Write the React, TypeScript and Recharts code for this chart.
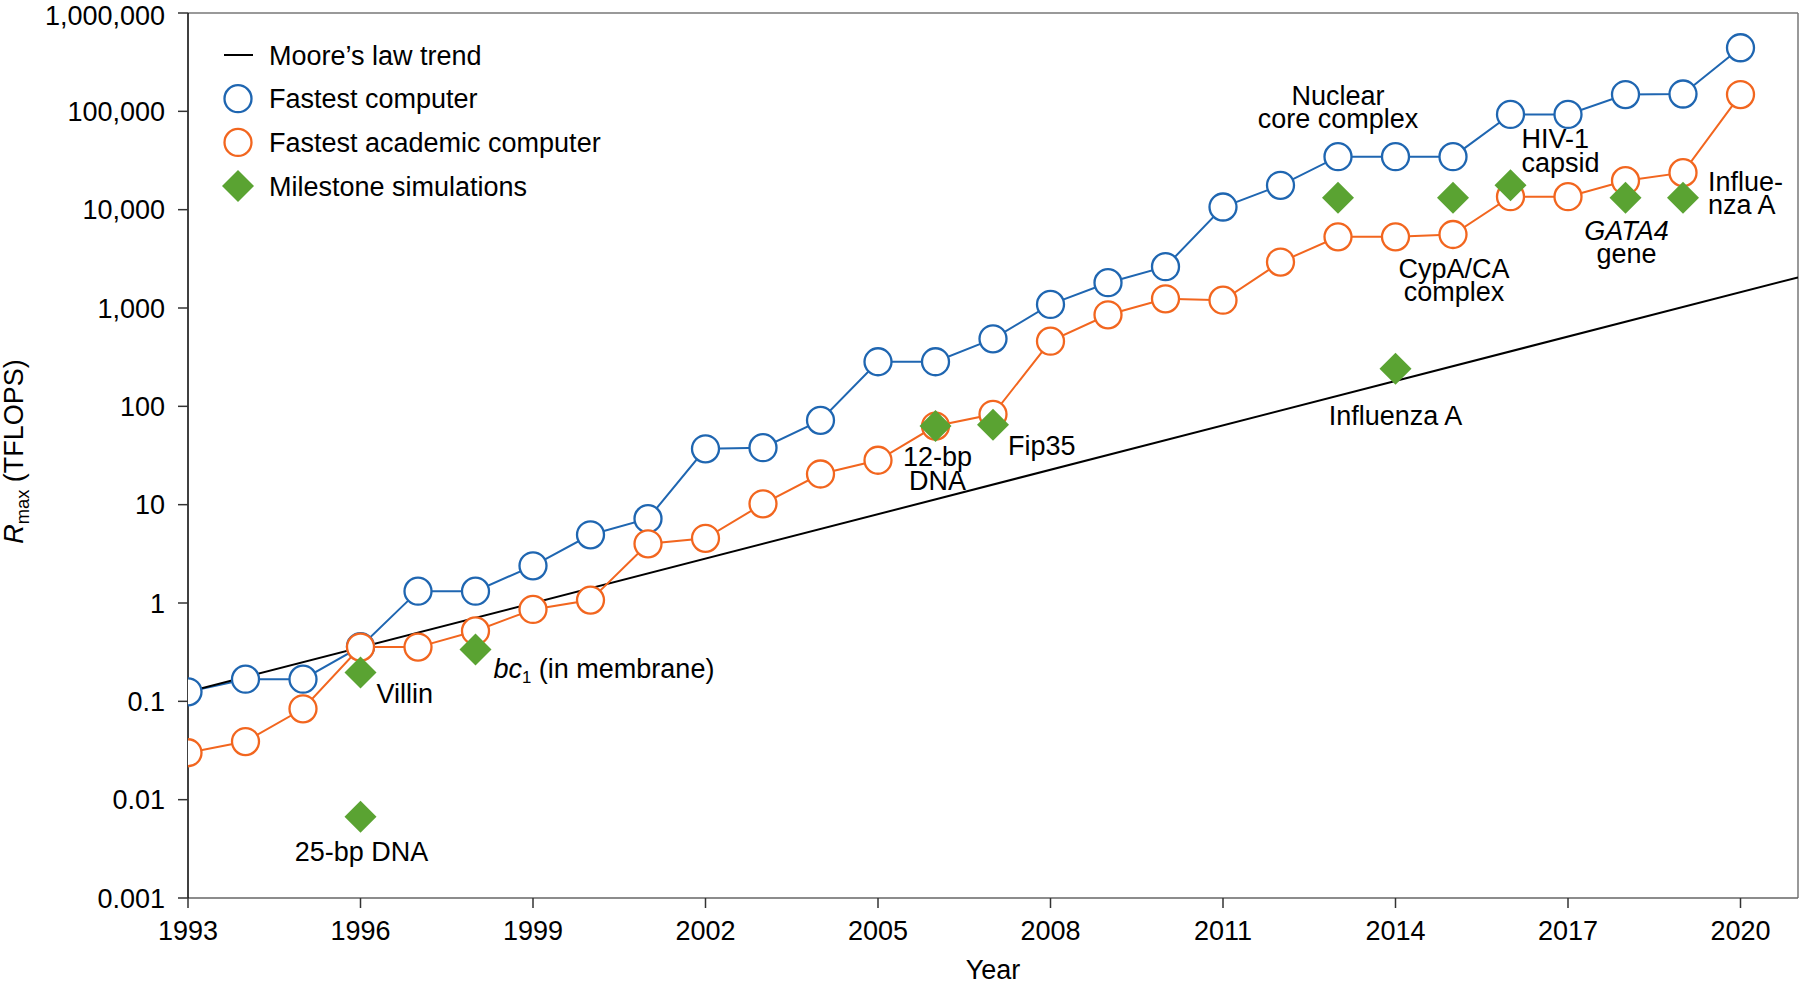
import React from "react";
import { ComposedChart, Line, XAxis, YAxis, ReferenceLine, Legend, Label } from "recharts";

const FONT = "'Liberation Sans', Arial, Helvetica, sans-serif";
const FS = 27;
const BLUE = "#1f66b1";
const ORANGE = "#f2661f";
const GREEN = "#5aa332";

// years 1993..2020
const years = [
  1993, 1994, 1995, 1996, 1997, 1998, 1999, 2000, 2001, 2002, 2003, 2004, 2005, 2006,
  2007, 2008, 2009, 2010, 2011, 2012, 2013, 2014, 2015, 2016, 2017, 2018, 2019, 2020,
];
// Rmax of the fastest computer (TFLOPS)
const fastest = [
  0.125, 0.168, 0.168, 0.36, 1.32, 1.32, 2.39, 4.94, 7.2, 37, 38, 72, 284, 284,
  486, 1087, 1808, 2630, 10640, 17700, 34600, 34600, 34600, 93000, 93000, 148000, 150000, 443000,
];
// Rmax of the fastest academic computer (TFLOPS)
const academic = [
  0.03, 0.039, 0.084, 0.356, 0.356, 0.52, 0.86, 1.07, 4.0, 4.55, 10.2, 20.5, 28.3, 63,
  83, 460, 853, 1240, 1200, 2930, 5290, 5290, 5590, 13550, 13550, 19700, 23800, 148000,
];
// Moore's law trend, end points
const mooreYears = [1993, 2021];
const mooreValues = [0.125, 2050];

// milestone simulations
const milestoneYears = [1996, 1996, 1998, 2006, 2007, 2013, 2014, 2015, 2016, 2018, 2019];
const milestoneValues = [0.197, 0.0067, 0.337, 63, 65, 13200, 241, 13200, 17700, 13200, 13200];
const milestoneLabels = [
  ["Villin"],
  ["25-bp DNA"],
  ["*bc*~1~ (in membrane)"],
  ["12-bp", "DNA"],
  ["Fip35"],
  ["Nuclear", "core complex"],
  ["Influenza A"],
  ["CypA/CA", "complex"],
  ["HIV-1", "capsid"],
  ["*GATA4*", "gene"],
  ["Influe-", "nza A"],
];

const xTicks = [1993, 1996, 1999, 2002, 2005, 2008, 2011, 2014, 2017, 2020];
const yTicks = [0.001, 0.01, 0.1, 1, 10, 100, 1000, 10000, 100000, 1000000];

// label placement relative to each diamond: dx, first baseline dy, anchor
const labelPlacement = [
  { dx: 16, dy: 31, anchor: "start" },
  { dx: 1, dy: 44, anchor: "middle" },
  { dx: 18, dy: 29, anchor: "start" },
  { dx: 2, dy: 40, anchor: "middle" },
  { dx: 15, dy: 30, anchor: "start" },
  { dx: 0, dy: -93, anchor: "middle" },
  { dx: 0, dy: 56, anchor: "middle" },
  { dx: 1, dy: 80, anchor: "middle" },
  { dx: 11, dy: -37, anchor: "start" },
  { dx: 1, dy: 42, anchor: "middle" },
  { dx: 25, dy: -7, anchor: "start" },
];
const LINE_H = 23.5;

const fastestData = years.map((year, i) => ({ year, v: fastest[i] }));
const academicData = years.map((year, i) => ({ year, v: academic[i] }));
const mooreData = mooreYears.map((year, i) => ({ year, v: mooreValues[i] }));
const milestoneData = milestoneYears.map((year, i) => ({ year, v: milestoneValues[i], idx: i }));

// tiny markup: *italic*, ~subscript~
function renderRich(line: string) {
  const parts = line.split(/(\*[^*]+\*|~[^~]+~)/).filter((p) => p.length);
  let sub = false;
  return parts.map((p, i) => {
    if (p.startsWith("*")) return <tspan key={i} fontStyle="italic">{p.slice(1, -1)}</tspan>;
    if (p.startsWith("~")) {
      sub = true;
      return <tspan key={i} fontSize={FS * 0.62} dy={5}>{p.slice(1, -1)}</tspan>;
    }
    if (sub) {
      sub = false;
      return <tspan key={i} dy={-5}>{p}</tspan>;
    }
    return <tspan key={i}>{p}</tspan>;
  });
}

const circleDot = (color: string) => (props: any) => {
  const { cx, cy, index } = props;
  if (cx == null || cy == null) return <g key={index} />;
  return <circle key={index} cx={cx} cy={cy} r={13.5} fill="#fff" stroke={color} strokeWidth={2.3} />;
};

// diamond + annotation, used as the dot of an unstroked line so it sits on top
const milestoneDot = (props: any) => {
  const { cx, cy, index } = props;
  if (cx == null || cy == null) return <g key={index} />;
  const p = labelPlacement[index];
  const s = 16;
  return (
    <g key={index}>
      <path d={`M${cx},${cy - s} L${cx + s},${cy} L${cx},${cy + s} L${cx - s},${cy} Z`} fill={GREEN} />
      <text x={cx + p.dx} y={cy + p.dy} textAnchor={p.anchor} fontSize={FS} fontFamily={FONT} fill="#000">
        {milestoneLabels[index].map((line, k) => (
          <tspan key={k} x={cx + p.dx} dy={k === 0 ? 0 : LINE_H}>
            {renderRich(line)}
          </tspan>
        ))}
      </text>
    </g>
  );
};

const legendItems = ["Moore\u2019s law trend", "Fastest computer", "Fastest academic computer", "Milestone simulations"];

const LegendBox = () => (
  <svg width={440} height={200} style={{ display: "block" }}>
    {legendItems.map((name, i) => {
      const cy = 25 + i * 43.7;
      const cx = 38;
      let sym;
      if (i === 0) sym = <line x1={cx - 14} x2={cx + 15} y1={cy} y2={cy} stroke="#000" strokeWidth={2} />;
      else if (i === 1) sym = <circle cx={cx} cy={cy} r={13.5} fill="#fff" stroke={BLUE} strokeWidth={2.3} />;
      else if (i === 2) sym = <circle cx={cx} cy={cy} r={13.5} fill="#fff" stroke={ORANGE} strokeWidth={2.3} />;
      else sym = <path d={`M${cx},${cy - 16} L${cx + 16},${cy} L${cx},${cy + 16} L${cx - 16},${cy} Z`} fill={GREEN} />;
      return (
        <g key={name}>
          {sym}
          <text x={69} y={cy + 9.5} fontSize={FS} fontFamily={FONT} fill="#000">{name}</text>
        </g>
      );
    })}
  </svg>
);

const yFormat = (v: number) => (v >= 1000 ? v.toLocaleString("en-US") : String(v));

export default function App() {
  return (
    <div style={{ width: 1800, height: 982, background: "#fff" }}>
      <style>{"body{margin:0;background:#fff}"}</style>
      <ComposedChart width={1800} height={982} margin={{ top: 13, right: 2, bottom: 0, left: 0 }}>
        <XAxis
          type="number"
          dataKey="year"
          domain={[1993, 2021]}
          ticks={xTicks}
          allowDataOverflow
          height={84}
          tickSize={10}
          tickMargin={13}
          axisLine={{ stroke: "#666", strokeWidth: 1.5 }}
          tickLine={{ stroke: "#333", strokeWidth: 1.5 }}
          tick={{ fontSize: FS, fontFamily: FONT, fill: "#000" }}
        >
          <Label
            content={(props: any) => {
              const vb = props.viewBox;
              return (
                <text x={vb.x + vb.width / 2} y={vb.y + vb.height - 3} textAnchor="middle" fontSize={FS} fontFamily={FONT} fill="#000">
                  Year
                </text>
              );
            }}
          />
        </XAxis>
        <YAxis
          dataKey="v"
          scale="log"
          domain={[0.001, 1000000]}
          ticks={yTicks}
          allowDataOverflow
          width={188}
          tickSize={10}
          tickMargin={13}
          tickFormatter={yFormat}
          axisLine={{ stroke: "#000", strokeWidth: 1.5 }}
          tickLine={{ stroke: "#333", strokeWidth: 1.5 }}
          tick={{ fontSize: FS, fontFamily: FONT, fill: "#000" }}
        >
          <Label
            content={(props: any) => {
              const vb = props.viewBox;
              const x = vb.x + 23;
              const y = vb.y + vb.height / 2 - 4;
              return (
                <text x={x} y={y} transform={`rotate(-90 ${x} ${y})`} textAnchor="middle" fontSize={FS} fontFamily={FONT} fill="#000">
                  <tspan fontStyle="italic">R</tspan>
                  <tspan fontSize={FS * 0.68} dy={6}>max</tspan>
                  <tspan dy={-6}> (TFLOPS)</tspan>
                </text>
              );
            }}
          />
        </YAxis>
        <ReferenceLine y={1000000} stroke="#777" strokeWidth={1.5} />
        <ReferenceLine x={2021} stroke="#777" strokeWidth={1.5} />
        <Line
          data={fastestData}
          dataKey="v"
          stroke={BLUE}
          strokeWidth={2}
          dot={circleDot(BLUE)}
          activeDot={false}
          isAnimationActive={false}
        />
        <Line
          data={mooreData}
          dataKey="v"
          stroke="#000"
          strokeWidth={2}
          dot={false}
          activeDot={false}
          isAnimationActive={false}
        />
        <Line
          data={academicData}
          dataKey="v"
          stroke={ORANGE}
          strokeWidth={2}
          dot={circleDot(ORANGE)}
          activeDot={false}
          isAnimationActive={false}
        />
        <Line
          data={milestoneData}
          dataKey="v"
          stroke="none"
          strokeWidth={0}
          dot={milestoneDot}
          activeDot={false}
          isAnimationActive={false}
        />
        <Legend
          content={() => <LegendBox />}
          layout="vertical"
          align="center"
          verticalAlign="middle"
          wrapperStyle={{ left: 200, top: 30, width: 440, height: 200 }}
        />
      </ComposedChart>
    </div>
  );
}
